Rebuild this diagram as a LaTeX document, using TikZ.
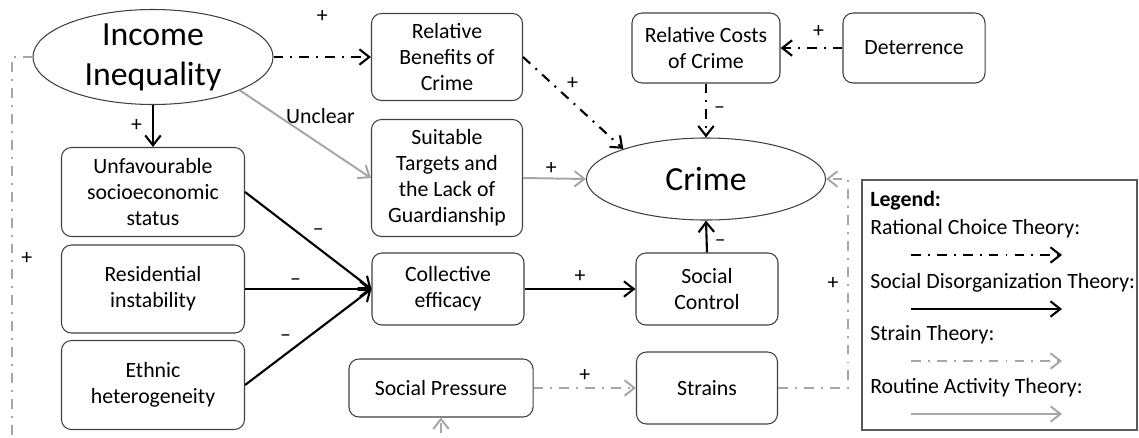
\documentclass[tikz,border=0pt]{standalone}
\usepackage{fontspec}
\setmainfont{Carlito}
\usetikzlibrary{shapes.geometric,arrows.meta}
\definecolor{boxline}{HTML}{404040}
\definecolor{lightline}{HTML}{A6A6A6}
\definecolor{legline}{HTML}{595959}
\begin{document}
\begin{tikzpicture}[x=0.025cm, y=-0.025cm,
    every node/.style={font=\fontsize{15.5}{18.5}\selectfont, align=center, inner sep=0pt},
    box/.style={draw=boxline, line width=0.75pt, rounded corners=0.25cm},
    oval/.style={ellipse, draw=boxline, line width=0.75pt, font=\fontsize{24}{28.5}\selectfont},
    lab/.style={inner sep=2pt},
    tip/.style={-{Straight Barb[length=7pt,width=11pt]}},
    rctline/.style={tip, line width=1.5pt, dash pattern=on 7pt off 5pt on 1.4pt off 5pt},
    sdtline/.style={tip, line width=1.5pt},
    stline/.style={rctline, draw=lightline, line width=1.4pt},
    ratline/.style={sdtline, draw=lightline, line width=1.4pt}]
    \useasboundingbox (0,0) rectangle (1139,437);
    \clip (0,0) rectangle (1139,437);

    \node[oval, minimum width=6cm, minimum height=2.15cm] (ineq) at (153,57) {Income\\Inequality};
    \node[oval, minimum width=5.975cm, minimum height=2.05cm] (crime) at (706,179) {Crime};
    \node[box, minimum width=3.775cm, minimum height=2.175cm] (benefit) at (447,57) {Relative\\Benefits of\\Crime};
    \node[box, minimum width=3.7cm, minimum height=1.75cm] (cost) at (706,48) {Relative Costs\\of Crime};
    \node[box, minimum width=3.55cm, minimum height=1.75cm] (deter) at (914,48) {Deterrence};
    \node[box, minimum width=3.775cm, minimum height=2.925cm] (target) at (447,178) {Suitable\\Targets and\\the Lack of\\Guardianship};
    \node[box, minimum width=4.575cm, minimum height=2.225cm] (status) at (153,192) {Unfavourable\\socioeconomic\\status};
    \node[box, minimum width=4.575cm, minimum height=2.2cm] (resid) at (153,289) {Residential\\instability};
    \node[box, minimum width=4.575cm, minimum height=2.225cm] (ethnic) at (153,385) {Ethnic\\heterogeneity};
    \node[box, minimum width=3.8cm, minimum height=1.8cm] (efficacy) at (448,289) {Collective\\efficacy};
    \node[box, minimum width=3.55cm, minimum height=1.8cm] (control) at (707,289) {Social\\Control};
    \node[box, minimum width=4.6cm, minimum height=1.45cm] (pressure) at (441,388) {Social Pressure};
    \node[box, minimum width=3.525cm, minimum height=1.8cm] (strain) at (707,388) {Strains};
    \coordinate (lbend) at (12,460);
    \coordinate (sbend) at (848,179);

    \draw[rctline] (ineq.east) -- node[lab, above=22pt]{+} (benefit.west);
    \draw[ratline] (ineq.-21) -- node[lab, above=5pt, xshift=0.375cm]{Unclear} (target.west);
    \draw[sdtline] (ineq.south) -- node[lab, left=5pt]{+} (status.north);
    \draw[rctline] (benefit.east) -- node[lab, pos=0.4, above right=0pt]{+} (crime.160);
    \draw[rctline] (cost.south) -- node[lab, right=3pt]{--} (crime.north);
    \draw[rctline] (deter.west) -- node[lab, above=5pt, xshift=0.175cm]{+} (cost.east);
    \draw[ratline] (target.east) -- node[lab, pos=0.45, above=0pt]{+} (crime.west);
    \draw[sdtline] (status.east) -- node[lab, above=1pt, xshift=0.25cm]{--} (efficacy.west);
    \draw[sdtline] (resid.east) -- node[lab, pos=0.4, above=0pt]{--} (efficacy.west);
    \draw[sdtline] (ethnic.east) -- node[lab, pos=0.4, above=1pt, xshift=-0.25cm]{--} (efficacy.west);
    \draw[sdtline] (efficacy.east) -- node[lab, above=2pt]{+} (control.west);
    \draw[sdtline] (control.north) -- node[lab, pos=0.3, right=3pt]{--} (crime.south);
    \draw[stline] (pressure.east) -- node[lab, above=2pt]{+} (strain.west);
    \draw[stline] (strain.east) -| node[lab, pos=0.75, left=4pt]{+} (sbend) -- (crime.east);
    \draw[stline] (ineq.west) -| node[lab, pos=0.75, right=4pt]{+} (lbend) -| (pressure.south);

    \node[draw=legline, line width=0.8pt, minimum width=6.875cm, minimum height=6.25cm] (legbox) at (999.5,305) {};
    \node[anchor=west, font=\fontsize{15.5}{18.5}\selectfont\bfseries] (legend) at (870,201) {Legend:};
    \foreach \i/\txt/\ty/\sty in {1/Rational Choice Theory:/229/rctline,
        2/Social Disorganization Theory:/283/sdtline,
        3/Strain Theory:/335/stline,
        4/Routine Activity Theory:/388/ratline} {
        \node[anchor=west] (theory\i) at (870,\ty) {\txt};
        \coordinate (from\i) at (911,\ty+26);
        \coordinate (to\i) at (1062,\ty+26);
        \draw[\sty] (from\i) -- (to\i);
    }
\end{tikzpicture}
\end{document}
